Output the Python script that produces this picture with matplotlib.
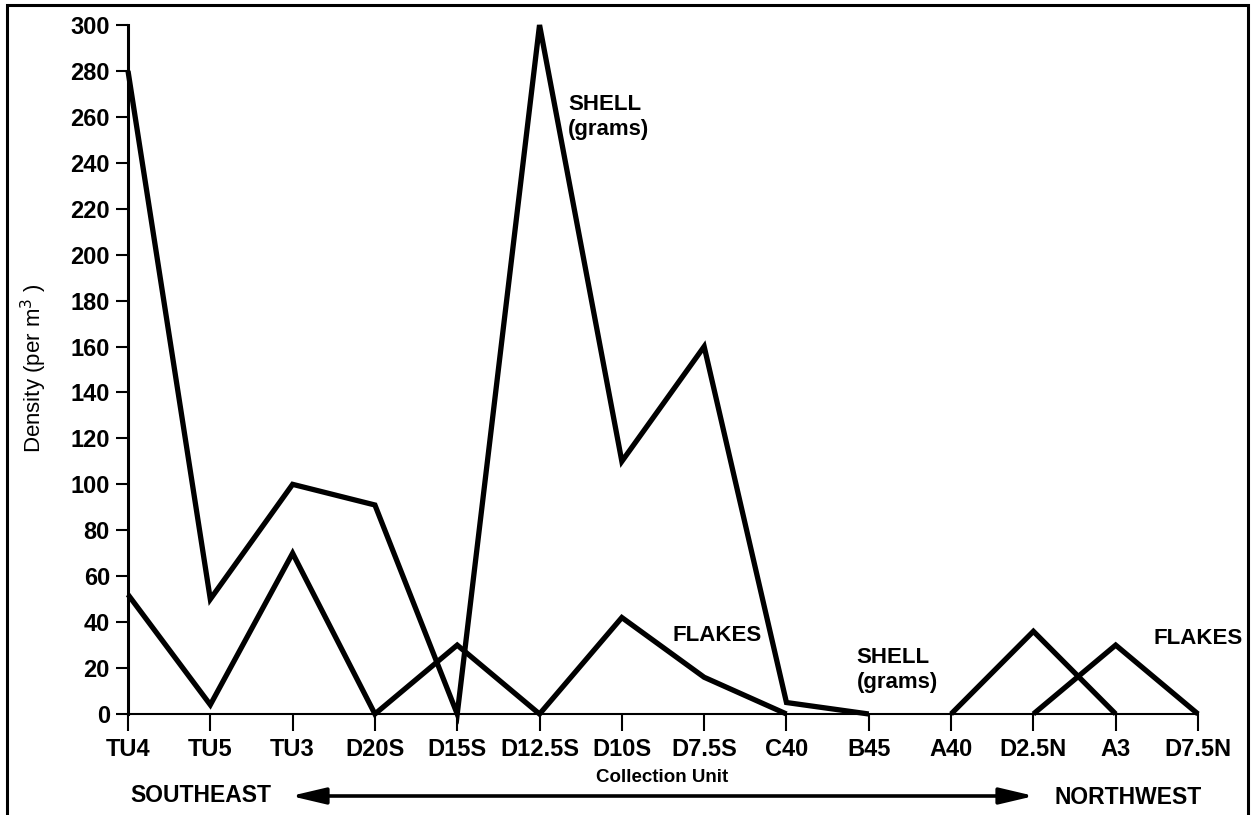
import matplotlib
matplotlib.use("Agg")
import matplotlib.pyplot as plt
from matplotlib.patches import Rectangle, FancyArrowPatch

units = ["TU4", "TU5", "TU3", "D20S", "D15S", "D12.5S", "D10S", "D7.5S",
         "C40", "B45", "A40", "D2.5N", "A3", "D7.5N"]
shell = [280, 50, 100, 91, 0, 300, 110, 160, 5, 0, 0, 36, 0, 0]
flakes = [52, 4, 70, 0, 30, 0, 42, 16, 0, 0, 0, 0, 30, 0]
yticks = list(range(0, 301, 20))

W, H = 1252, 815
plt.rcParams['font.family'] = ['Liberation Sans', 'DejaVu Sans']
fig = plt.figure(figsize=(W / 100, H / 100), dpi=100)


def fx(px):
    return px / W


def fy(py):
    return 1 - py / H


def broken(vals):
    """Insert gaps where two consecutive values are both zero (no line drawn there)."""
    xs, ys = [], []
    for i, v in enumerate(vals):
        if i > 0 and vals[i - 1] == 0 and v == 0:
            xs.append(i - 0.5)
            ys.append(float('nan'))
        xs.append(i)
        ys.append(v)
    return xs, ys


left, right, top, bottom = 128, 1198, 25, 714
ax = fig.add_axes([fx(left), fy(bottom), fx(right) - fx(left), (bottom - top) / H])
x = list(range(len(units)))
for series in (shell, flakes):
    xs, ys = broken(series)
    ax.plot(xs, ys, color='black', lw=3.8, clip_on=False,
            solid_joinstyle='miter', solid_capstyle='butt', zorder=3)
ax.set_xlim(0, len(units) - 1)
ax.set_ylim(0, 300)
ax.set_xticks(x)
ax.set_xticklabels(units, fontsize=17, fontweight='bold')
ax.set_yticks(yticks)
ax.set_yticklabels([str(v) for v in yticks], fontsize=17, fontweight='bold')
ax.tick_params(axis='x', length=12, width=1.5, pad=5)
ax.tick_params(axis='y', length=9, width=1.5, pad=4)
for s in ['top', 'right']:
    ax.spines[s].set_visible(False)
ax.spines['left'].set_linewidth(2.2)
ax.spines['bottom'].set_linewidth(1.5)

lab = dict(fontsize=16, fontweight='bold', linespacing=1.25)
ax.text(5.35, 260, "SHELL\n(grams)", ha='left', va='center', **lab)
ax.text(6.62, 34, "FLAKES", ha='left', va='center', **lab)
ax.text(8.85, 19, "SHELL\n(grams)", ha='left', va='center', **lab)
ax.text(13.0, 33, "FLAKES", ha='center', va='center', **lab)

fig.text(fx(34), fy(368), "Density (per m$^3$ )", rotation=90, fontsize=16,
         ha='center', va='center')
fig.text(fx(662), fy(778), "Collection Unit", fontsize=13.5, fontweight='bold',
         ha='center', va='center')
fig.text(fx(130), fy(796), "SOUTHEAST", fontsize=16.5, fontweight='bold',
         ha='left', va='center')
fig.text(fx(1128), fy(798), "NORTHWEST", fontsize=16.5, fontweight='bold',
         ha='center', va='center')
fig.patches.append(FancyArrowPatch(
    (fx(288), fy(796)), (fx(1037), fy(796)), transform=fig.transFigure,
    arrowstyle='<|-|>,head_length=14,head_width=3.3', mutation_scale=1.5,
    color='black', lw=2.6))

fig.patches.append(Rectangle((fx(7), fy(830)), fx(1248) - fx(7), fy(5) - fy(830),
                             transform=fig.transFigure, fill=False, lw=2.2,
                             edgecolor='black'))

fig.savefig("out.png", dpi=100)
